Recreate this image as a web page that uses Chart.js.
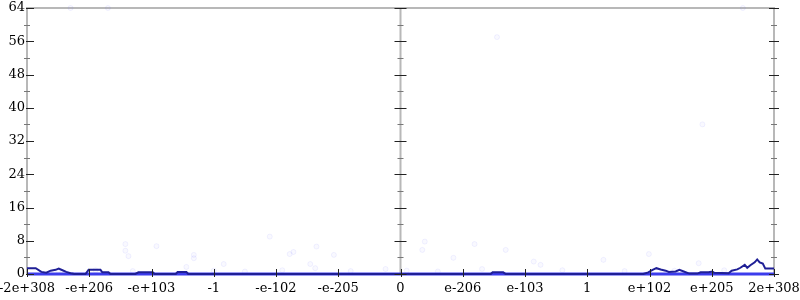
<!DOCTYPE html>
<html>
<head>
<meta charset="utf-8">
<script src="https://cdn.jsdelivr.net/npm/chart.js@4/dist/chart.umd.min.js"></script>
<style>
  html, body { margin: 0; background: #fff; }
  #wrap { width: 800px; height: 300px; }
</style>
</head>
<body>
<div id="wrap"><canvas id="c"></canvas></div>
<script>
// x runs in "decade slots": -6 .. 6, one slot per labelled tick
const xTickPos = [-6, -5, -4, -3, -2, -1, 0, 1, 2, 3, 4, 5, 6]
const xTickLabels = ['-2e+308', '-e+206', '-e+103', '-1', '-e-102', '-e-205', '0',
  'e-206', 'e-103', '1', 'e+102', 'e+205', '2e+308']

// dark line
const lineX = [-6.0, -5.86, -5.77, -5.69, -5.62, -5.54, -5.49, -5.43, -5.37, -5.30, -5.24,
  -5.06, -5.01, -4.82, -4.79, -4.69, -4.66, -4.26, -4.21, -3.98, -3.95, -3.61, -3.58, -3.44,
  -3.41, 1.45, 1.48, 1.65, 1.69, 3.90, 3.98, 4.05, 4.11, 4.18, 4.26, 4.31, 4.42, 4.48, 4.55,
  4.64, 4.77, 4.82, 4.95, 5.01, 5.04, 5.27, 5.32, 5.41, 5.46, 5.53, 5.57, 5.62, 5.69, 5.73,
  5.77, 5.82, 5.86, 6.0]
const lineY = [1.4, 1.4, 0.5, 0.3, 0.8, 1.0, 1.3, 0.9, 0.5, 0.2, 0.0,
  0.0, 1.0, 1.0, 0.4, 0.4, 0.0, 0.0, 0.4, 0.4, 0.0, 0.0, 0.5, 0.5,
  0.0, 0.0, 0.4, 0.4, 0.0, 0.0, 0.4, 1.0, 1.4, 1.1, 0.8, 0.5, 0.6, 1.0, 0.6,
  0.1, 0.1, 0.4, 0.4, 0.6, 0.3, 0.2, 0.8, 1.1, 1.5, 2.2, 1.5, 2.1, 2.8, 3.5,
  2.8, 2.5, 1.3, 1.3]

// bright base line
const baseX = [-6, 6]
const baseY = [0, 0]

// faint scattered samples
const dotX = [-4.42, -4.42, -4.37, -3.92, -3.32, -3.32, -2.84, -3.44, -2.1, -1.78, -1.72,
  -1.35, -1.07, -1.45, -1.37, -0.24, 0.39, 0.35, 1.19, 0.85, 1.69, 2.14, 2.25, 3.26, 3.99,
  4.79, 1.31, -5.5, -4.9, -4.3, -3.0, -2.5, -1.9, -0.8, 0.1, 0.6, 2.6, 3.6, 4.4, 5.2,
  -5.3, -4.7, 5.5, 1.55, 4.85]
const dotY = [7.2, 5.6, 4.3, 6.7, 4.6, 3.8, 2.4, 1.7, 9.0, 4.8, 5.3,
  6.6, 4.6, 2.4, 1.4, 1.2, 7.8, 5.8, 7.2, 3.9, 5.8, 3.0, 2.2, 3.4, 4.8,
  2.6, 1.2, 0.8, 0.9, 0.7, 0.8, 0.6, 0.9, 0.7, 0.8, 0.6, 0.9, 0.7, 0.8, 0.9,
  64, 64, 64, 57, 36]

const pts = (xs, ys) => xs.map((x, i) => ({ x, y: ys[i] }))

const serif = { family: 'DejaVu Serif', size: 13 }

const frame = {
  id: 'frame',
  beforeDatasetsDraw(chart) {
    const { ctx, chartArea: a, scales: { x } } = chart
    ctx.save()
    ctx.strokeStyle = '#b8b8b8'
    ctx.lineWidth = 2
    ctx.beginPath()
    ctx.moveTo(a.left, a.bottom); ctx.lineTo(a.left, a.top)
    ctx.lineTo(a.right, a.top); ctx.lineTo(a.right, a.bottom)
    const cx = x.getPixelForValue(0)
    ctx.moveTo(cx, a.top); ctx.lineTo(cx, a.bottom)
    ctx.stroke()
    ctx.restore()
  },
  afterDatasetsDraw(chart) {
    const { ctx, chartArea: a, scales: { x, y } } = chart
    const cx = x.getPixelForValue(0)
    ctx.save()
    ctx.lineWidth = 1
    for (let v = 0; v <= 64; v += 4) {
      const py = Math.round(y.getPixelForValue(v)) + 0.5
      const major = v % 8 === 0
      ctx.strokeStyle = major ? '#222' : '#777'
      ctx.beginPath()
      if (major) {
        ctx.moveTo(a.left - 1, py); ctx.lineTo(a.left + 7, py)
        ctx.moveTo(cx - 6, py); ctx.lineTo(cx + 6, py)
        ctx.moveTo(a.right - 5, py); ctx.lineTo(a.right + 5, py)
      } else {
        ctx.moveTo(a.left - 3, py); ctx.lineTo(a.left + 3, py)
        ctx.moveTo(cx - 3, py); ctx.lineTo(cx + 3, py)
        ctx.moveTo(a.right - 3, py); ctx.lineTo(a.right + 3, py)
      }
      ctx.stroke()
    }
    ctx.strokeStyle = '#222'
    xTickPos.forEach(v => {
      const px = Math.round(x.getPixelForValue(v)) + 0.5
      ctx.beginPath()
      ctx.moveTo(px, a.bottom - 5); ctx.lineTo(px, a.bottom + 3)
      ctx.stroke()
    })
    ctx.restore()
  }
}

new Chart(document.getElementById('c'), {
  type: 'line',
  data: {
    datasets: [
      {
        type: 'scatter',
        data: pts(dotX, dotY),
        pointRadius: 2.5,
        borderWidth: 1,
        borderColor: 'rgba(110,110,255,0.09)',
        backgroundColor: 'rgba(110,110,255,0.04)',
        clip: false,
        order: 3
      },
      {
        data: pts(baseX, baseY),
        borderColor: 'rgba(50,50,235,0.95)',
        borderWidth: 3,
        pointRadius: 0,
        clip: false,
        order: 2
      },
      {
        data: pts(lineX, lineY),
        borderColor: '#1f1f96',
        borderWidth: 2,
        pointRadius: 0,
        tension: 0,
        clip: false,
        order: 1
      }
    ]
  },
  options: {
    responsive: true,
    maintainAspectRatio: false,
    animation: false,
    layout: { padding: { top: 8, right: 26, left: 0, bottom: 0 } },
    plugins: { legend: { display: false }, tooltip: { enabled: false } },
    scales: {
      x: {
        type: 'linear',
        min: -6,
        max: 6,
        afterBuildTicks: s => { s.ticks = xTickPos.map(v => ({ value: v })) },
        afterFit: s => {
          s.height = 26
          s.paddingLeft = 0
          s.paddingRight = 0
        },
        grid: { display: false, drawTicks: false },
        border: { display: false },
        ticks: {
          autoSkip: false,
          maxRotation: 0,
          padding: 7,
          color: '#000',
          font: serif,
          callback: (v, i) => xTickLabels[i]
        }
      },
      y: {
        min: 0,
        max: 64,
        afterFit: s => {
          s.width = 27
          s.paddingTop = 0
          s.paddingBottom = 0
        },
        grid: { display: false, drawTicks: false },
        border: { display: false },
        ticks: { stepSize: 8, padding: 2, color: '#000', font: serif }
      }
    }
  },
  plugins: [frame]
})
</script>
</body>
</html>
